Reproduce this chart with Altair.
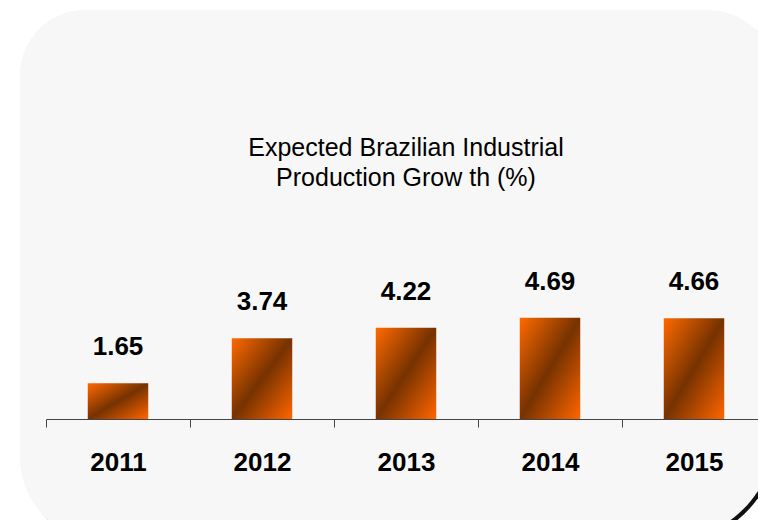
import altair as alt
import pandas as pd

# ---- data ----
years = ["2011", "2012", "2013", "2014", "2015"]
growth = [1.65, 3.74, 4.22, 4.69, 4.66]
title_lines = ["Expected Brazilian Industrial", "Production Grow th (%)"]

df = pd.DataFrame({"year": years, "growth": growth})

FONT = "Liberation Sans"
PLOT_W = 712
PLOT_H = 108
LEFT = 46
TOP = 311

x_enc = alt.X(
    "year:N",
    sort=years,
    scale=alt.Scale(range=[0, 720], paddingInner=0, paddingOuter=0),
    axis=alt.Axis(
        title=None,
        labelAngle=0,
        tickBand="extent",
        labelFont=FONT,
        labelFontSize=26,
        labelFontWeight="bold",
        labelColor="#000000",
        labelPadding=22,
        tickSize=8,
        domainColor="#444444",
        tickColor="#444444",
        domainWidth=1,
        tickWidth=1,
        grid=False,
        zindex=1,
    ),
)
y_enc = alt.Y("growth:Q", scale=alt.Scale(domain=[0, 5]), axis=None)

one = alt.Data(values=[{"k": 1}])

corner = dict(
    cornerRadiusTopLeft=65,
    cornerRadiusTopRight=68,
    cornerRadiusBottomRight=112,
    cornerRadiusBottomLeft=85,
)

shadow_grad = alt.Gradient(
    gradient="linear",
    x1=0, y1=0, x2=1, y2=1,
    stops=[
        alt.GradientStop(offset=0, color="#ffffff"),
        alt.GradientStop(offset=0.5, color="#b0b0b0"),
        alt.GradientStop(offset=0.82, color="#333333"),
        alt.GradientStop(offset=1, color="#000000"),
    ],
)

shadow = alt.Chart(one).mark_rect(color=shadow_grad, **corner).encode(
    x=alt.value(20 - LEFT + 3),
    x2=alt.value(776 - LEFT + 3),
    y=alt.value(10 - TOP + 3),
    y2=alt.value(542 - TOP + 3),
)

panel = alt.Chart(one).mark_rect(color="#f7f7f7", **corner).encode(
    x=alt.value(20 - LEFT),
    x2=alt.value(776 - LEFT),
    y=alt.value(10 - TOP),
    y2=alt.value(542 - TOP),
)

bar_grad = alt.Gradient(
    gradient="linear",
    x1=0, y1=0, x2=1, y2=1,
    stops=[
        alt.GradientStop(offset=0, color="#ff6a00"),
        alt.GradientStop(offset=0.5, color="#763200"),
        alt.GradientStop(offset=1, color="#ff6600"),
    ],
)

bars = alt.Chart(df).mark_bar(
    color=bar_grad, width=alt.RelativeBandSize(0.42)
).encode(x=x_enc, y=y_enc)

labels = alt.Chart(df).mark_text(
    font=FONT, fontSize=26, fontWeight="bold", color="#000000",
    baseline="alphabetic", dy=-28,
).encode(x=x_enc, y=y_enc, text=alt.Text("growth:Q", format=".2f"))

chart = (
    alt.layer(shadow, panel, bars, labels)
    .properties(
        width=PLOT_W,
        height=PLOT_H,
        title=alt.TitleParams(
            title_lines,
            font=FONT,
            fontSize=25,
            fontWeight="normal",
            color="#000000",
            anchor="middle",
            frame="group",
            offset=-181,
            lineHeight=30,
            dx=4,
        ),
        padding={"left": LEFT, "top": TOP, "right": 0, "bottom": 101},
        autosize=alt.AutoSizeParams(type="none"),
        background="#ffffff",
    )
    .configure_view(stroke=None)
)

chart.save("out.html", embed_options={"renderer": "svg", "actions": False})
